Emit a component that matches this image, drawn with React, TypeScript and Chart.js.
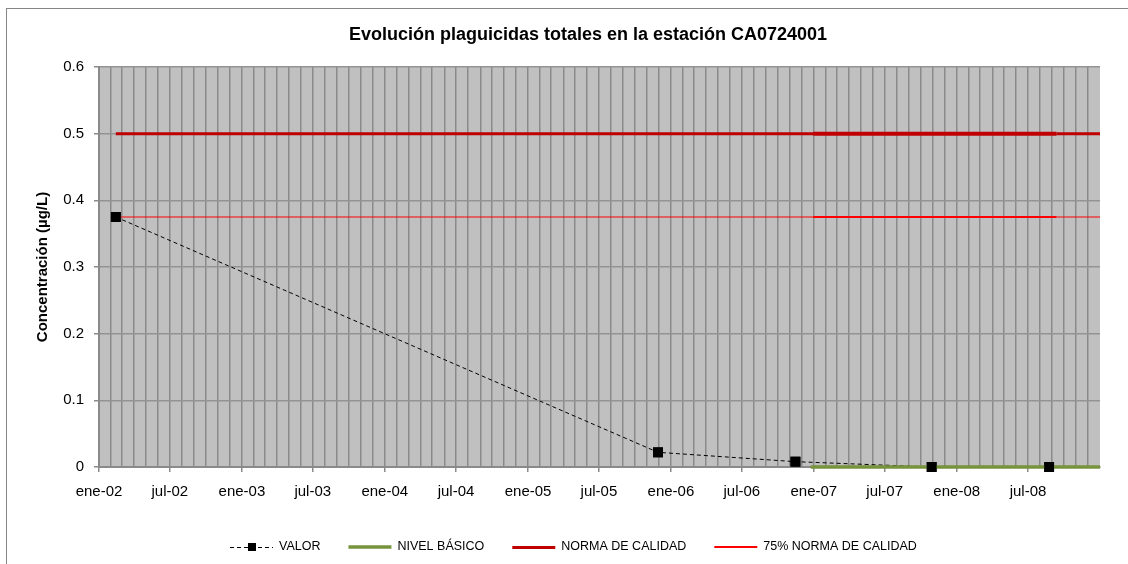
import React, { useEffect, useRef } from 'react';
import { Chart, registerables } from 'chart.js';

Chart.register(...registerables);

// ---------- DATA ----------
const chartTitle = 'Evolución plaguicidas totales en la estación CA0724001';
const yAxisTitle = 'Concentración (µg/L)';

const axisStart = '2002-01-01';
const axisEnd = '2009-01-01';
const xTickLabels = [
  'ene-02', 'jul-02', 'ene-03', 'jul-03', 'ene-04', 'jul-04', 'ene-05',
  'jul-05', 'ene-06', 'jul-06', 'ene-07', 'jul-07', 'ene-08', 'jul-08',
];
const yTickValues = [0, 0.1, 0.2, 0.3, 0.4, 0.5, 0.6];
const yTickLabels = ['0', '0.1', '0.2', '0.3', '0.4', '0.5', '0.6'];

const valorLabel = 'VALOR';
const valorDates = ['2002-02-13', '2005-11-29', '2006-11-15', '2007-10-29', '2008-08-24'];
const valorValues = [0.375, 0.022, 0.008, 0, 0];

const nivelLabel = 'NIVEL BÁSICO';
const nivelDates = ['2006-12-24', '2009-01-01'];
const nivelValues = [0, 0];

const normaLabel = 'NORMA DE CALIDAD';
const normaDates = ['2002-02-13', '2006-12-30', '2008-09-12', '2009-01-01'];
const normaValues = [0.5, 0.5, 0.5, 0.5];

const norma75Label = '75% NORMA DE CALIDAD';
const norma75Dates = ['2002-02-13', '2006-12-30', '2008-09-12', '2009-01-01'];
const norma75Values = [0.375, 0.375, 0.375, 0.375];

// ---------- HELPERS ----------
const DAY = 86400000;
const parseUTC = (s: string) => {
  const [y, m, d] = s.split('-').map(Number);
  return Date.UTC(y, m - 1, d);
};
const dayNum = (s: string) => (parseUTC(s) - parseUTC(axisStart)) / DAY;

const monthTicks: number[] = (() => {
  const out: number[] = [];
  const [y0, m0] = axisStart.split('-').map(Number);
  const end = parseUTC(axisEnd);
  let i = 0;
  while (true) {
    const t = Date.UTC(y0, m0 - 1 + i, 1);
    if (t > end) break;
    out.push((t - parseUTC(axisStart)) / DAY);
    i++;
  }
  return out;
})();

const toPoints = (dates: string[], values: number[]) =>
  dates.map((d, i) => ({ x: dayNum(d), y: values[i] }));

const FONT = '"Liberation Sans", Arial, sans-serif';
const GRID = '#8a8a8a';

const plotBgPlugin = {
  id: 'plotBg',
  beforeDraw(chart: any) {
    const { ctx, chartArea } = chart;
    if (!chartArea) return;
    ctx.save();
    ctx.fillStyle = '#c0c0c0';
    ctx.fillRect(chartArea.left, chartArea.top, chartArea.right - chartArea.left, chartArea.bottom - chartArea.top);
    ctx.restore();
  },
};

// Excel draws every series' line first and the markers on top of all lines.
const markersOnTopPlugin = {
  id: 'markersOnTop',
  afterDatasetsDraw(chart: any) {
    const ctx = chart.ctx;
    chart.data.datasets.forEach((d: any, i: number) => {
      if (!d.pointRadius) return;
      const meta = chart.getDatasetMeta(i);
      ctx.save();
      meta.data.forEach((el: any) => el.draw(ctx, chart.chartArea));
      ctx.restore();
    });
  },
};

const legendPlugin = {
  id: 'excelLegend',
  afterDraw(chart: any) {
    const ctx = chart.ctx;
    const items = chart.data.datasets.filter((d: any) => d.label);
    const symW = 43;
    const gap = 6;
    const itemGap = 28;
    const centerX = 566;
    const y = 538;
    ctx.save();
    ctx.font = `12.5px ${FONT}`;
    const widths = items.map((d: any) => symW + gap + ctx.measureText(d.label).width);
    const total = widths.reduce((a: number, b: number) => a + b, 0) + itemGap * (items.length - 1);
    let x = Math.round(centerX - total / 2);
    items.forEach((d: any, i: number) => {
      const dashed = !!(d.borderDash && d.borderDash.length);
      const lw = dashed ? d.borderWidth : Math.max(d.borderWidth, 2);
      const ly = lw % 2 === 1 ? y + 0.5 : y;
      ctx.save();
      ctx.strokeStyle = d.borderColor;
      ctx.lineWidth = lw;
      ctx.setLineDash(d.borderDash || []);
      ctx.beginPath();
      ctx.moveTo(x, ly);
      ctx.lineTo(x + symW, ly);
      ctx.stroke();
      ctx.restore();
      if (d.pointStyle === 'rect') {
        ctx.fillStyle = d.pointBackgroundColor;
        ctx.fillRect(Math.round(x + symW / 2 - 4), y - 4, 8, 8);
      }
      ctx.fillStyle = '#000';
      ctx.textBaseline = 'middle';
      ctx.textAlign = 'left';
      ctx.fillText(d.label, x + symW + gap, y);
      x += widths[i] + itemGap;
    });
    ctx.restore();
  },
};

export default function App() {
  const canvasRef = useRef<HTMLCanvasElement | null>(null);

  useEffect(() => {
    document.body.style.overflow = 'hidden';
    const canvas = canvasRef.current;
    if (!canvas) return;
    const lastTick = monthTicks.length - 1;

    const chart = new Chart(canvas, {
      type: 'line',
      data: {
        datasets: [
          {
            label: valorLabel,
            data: toPoints(valorDates, valorValues),
            borderColor: '#000000',
            borderWidth: 1,
            borderDash: [4, 3],
            pointStyle: 'rect',
            pointRadius: 7,
            pointBackgroundColor: '#000000',
            pointBorderColor: '#000000',
            pointBorderWidth: 0,
            clip: false,
            tension: 0,
            order: 10,
          } as any,
          {
            label: nivelLabel,
            data: toPoints(nivelDates, nivelValues),
            borderColor: '#77933C',
            borderWidth: 3.5,
            pointRadius: 0,
            clip: false,
          } as any,
          {
            label: normaLabel,
            data: toPoints(normaDates, normaValues),
            borderColor: '#C00000',
            borderWidth: 3,
            pointRadius: 0,
            segment: { borderWidth: (c: any) => (c.p0DataIndex === 1 ? 4 : 3) },
          } as any,
          {
            label: norma75Label,
            data: toPoints(norma75Dates, norma75Values),
            borderColor: '#FF0000',
            borderWidth: 1,
            pointRadius: 0,
            segment: { borderWidth: (c: any) => (c.p0DataIndex === 1 ? 2 : 1) },
          } as any,
        ],
      },
      options: {
        responsive: false,
        animation: false,
        events: [],
        layout: { padding: { left: 0, right: 0, top: 0, bottom: 52 } },
        plugins: {
          legend: { display: false },
          tooltip: { enabled: false },
          title: {
            display: true,
            text: chartTitle,
            color: '#000',
            font: { family: FONT, size: 18, weight: 'bold' },
            padding: { top: 15, bottom: 21.4 },
          },
        },
        scales: {
          x: {
            type: 'linear',
            min: dayNum(axisStart),
            max: dayNum(axisEnd),
            afterBuildTicks: (s: any) => {
              s.ticks = monthTicks.map((v) => ({ value: v }));
            },
            ticks: {
              autoSkip: false,
              maxRotation: 0,
              minRotation: 0,
              padding: 11,
              color: '#000',
              font: { family: FONT, size: 15 },
              callback: (_v: any, i: number) => (i % 6 === 0 ? xTickLabels[i / 6] ?? '' : ''),
            },
            grid: {
              color: (c: any) => (c.index === lastTick ? 'rgba(0,0,0,0)' : GRID),
              lineWidth: 1.5,
              tickLength: 5,
              tickColor: (c: any) => (c.index % 6 === 0 && c.index < lastTick ? GRID : 'rgba(0,0,0,0)'),
            },
            border: { color: GRID, width: 2 },
          },
          y: {
            type: 'linear',
            position: 'left',
            min: 0,
            max: 0.6,
            afterBuildTicks: (s: any) => {
              s.ticks = yTickValues.map((v) => ({ value: v }));
            },
            afterFit: (s: any) => {
              s.width = 92;
            },
            ticks: {
              padding: 10,
              color: '#000',
              font: { family: FONT, size: 15 },
              callback: (_v: any, i: number) => yTickLabels[i],
            },
            grid: { color: '#939393', lineWidth: 1.5, tickLength: 5, tickColor: GRID },
            border: { color: GRID, width: 2 },
            title: {
              display: true,
              text: yAxisTitle,
              color: '#000',
              font: { family: FONT, size: 15, weight: 'bold' },
              padding: { top: 27, bottom: 0 },
            },
          },
          yRight: {
            type: 'linear',
            position: 'right',
            display: true,
            grid: { display: false },
            ticks: { display: false },
            border: { display: false },
            afterFit: (s: any) => {
              s.width = 69;
            },
          },
        },
      } as any,
      plugins: [plotBgPlugin, markersOnTopPlugin, legendPlugin],
    });

    return () => chart.destroy();
  }, []);

  return (
    <div
      style={{
        position: 'fixed',
        left: 6,
        top: 8,
        borderLeft: '1px solid #868686',
        borderTop: '1px solid #868686',
        background: '#fff',
        overflow: 'hidden',
      }}
    >
      <canvas ref={canvasRef} width={1162} height={555} style={{ display: 'block', width: 1162, height: 555 }} />
    </div>
  );
}
